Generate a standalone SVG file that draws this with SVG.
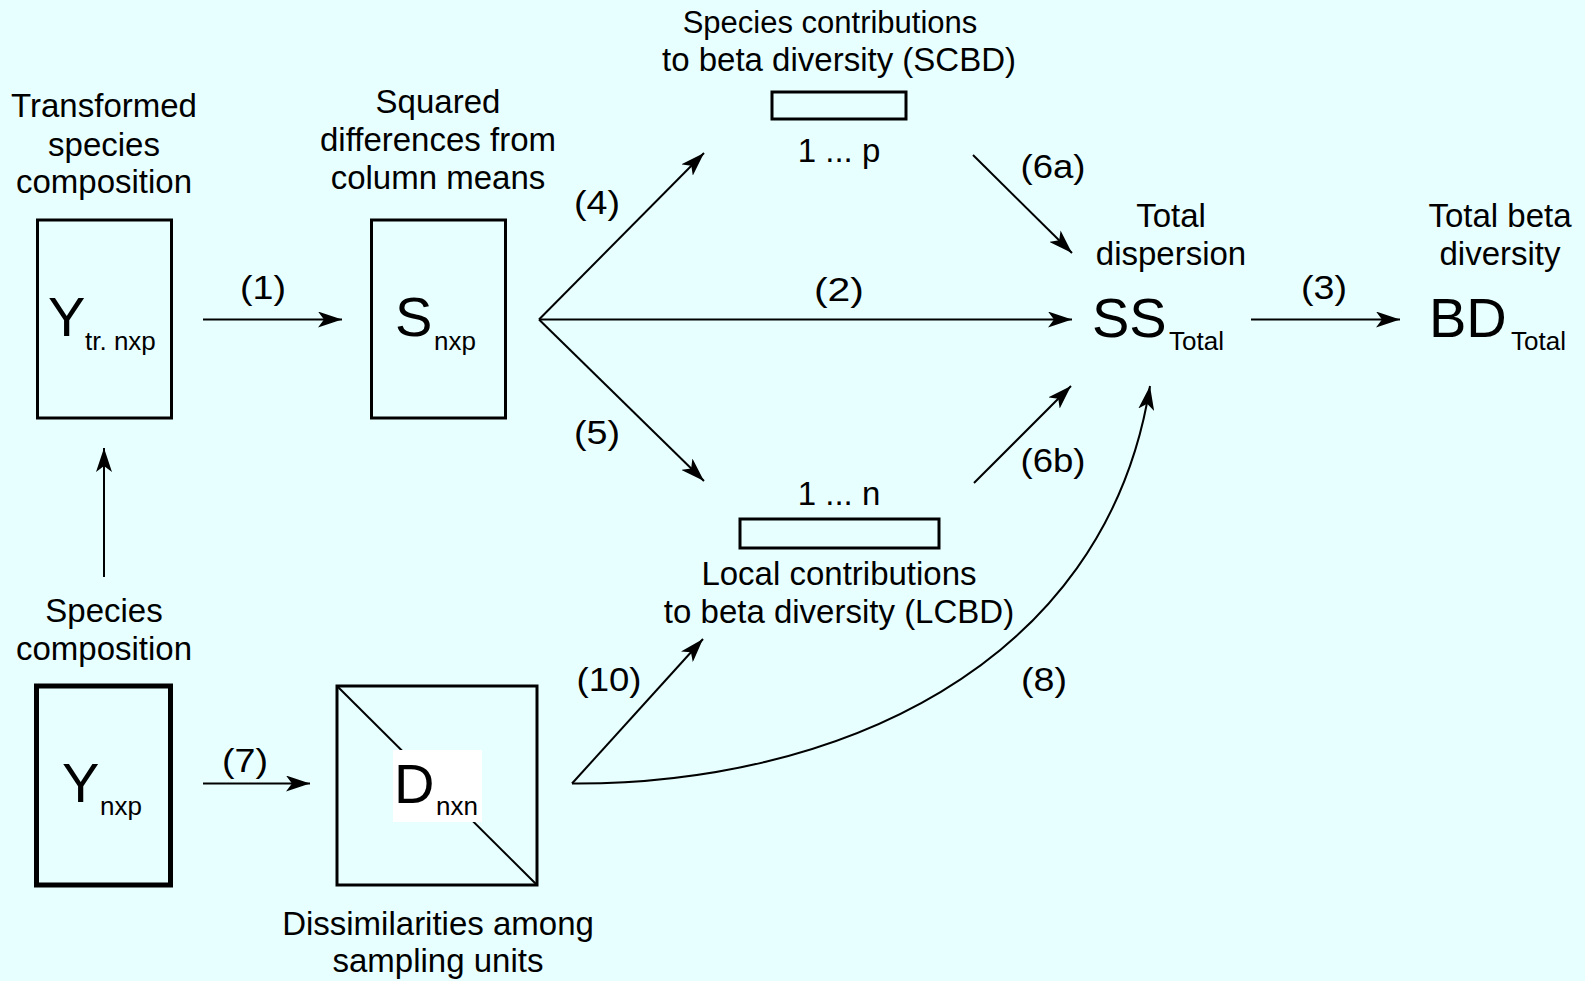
<svg xmlns="http://www.w3.org/2000/svg" width="1585" height="981" viewBox="0 0 1585 981">
<defs>
<style>
text{font-family:"Liberation Sans",Arial,sans-serif;fill:#000}
.t{font-size:33px;text-anchor:middle}
.lb{font-size:33px;text-anchor:middle}
.big{font-size:56px}
.sub{font-size:26px}
.box{fill:none;stroke:#000;stroke-width:3}
.thick{fill:none;stroke:#000;stroke-width:5}
.c{fill:none;stroke:#000;stroke-width:2;marker-end:url(#ah)}
</style>
<marker id="ah" markerUnits="userSpaceOnUse" markerWidth="24" markerHeight="16" refX="24" refY="8" orient="auto">
<path d="M0,0 L24,8 L0,16 L6,8 Z" fill="#000"/>
</marker>
</defs>
<rect x="0" y="0" width="1585" height="981" fill="#E8FFFF"/>

<g id="ytr">
<text class="t" x="104" y="117">Transformed</text>
<text class="t" x="104" y="156">species</text>
<text class="t" x="104" y="193">composition</text>
<rect class="box" x="37.5" y="220" width="134" height="198"/>
<text class="big" x="48" y="336">Y</text>
<text class="sub" x="85" y="350">tr. nxp</text>
</g>

<g id="s">
<text class="t" x="438" y="113">Squared</text>
<text class="t" x="438" y="151">differences from</text>
<text class="t" x="438" y="189">column means</text>
<rect class="box" x="371.5" y="220" width="134" height="198"/>
<text class="big" x="395" y="336">S</text>
<text class="sub" x="434" y="350">nxp</text>
</g>

<g id="scbd">
<text class="t" x="830" y="33" style="font-size:31px">Species contributions</text>
<text class="t" x="839" y="71">to beta diversity (SCBD)</text>
<rect class="box" x="772" y="92" width="134" height="27"/>
<text class="t" x="839" y="162">1 ... p</text>
</g>

<g id="lcbd">
<text class="t" x="839" y="505">1 ... n</text>
<rect class="box" x="740" y="519" width="199" height="29"/>
<text class="t" x="839" y="585">Local contributions</text>
<text class="t" x="839" y="623">to beta diversity (LCBD)</text>
</g>

<g id="ss">
<text class="t" x="1171" y="227">Total</text>
<text class="t" x="1171" y="265">dispersion</text>
<text class="big" x="1092" y="337">SS</text>
<text class="sub" x="1169" y="350">Total</text>
</g>

<g id="bd">
<text class="t" x="1500" y="227">Total beta</text>
<text class="t" x="1500" y="265">diversity</text>
<text class="big" x="1429" y="337">BD</text>
<text class="sub" x="1511" y="350">Total</text>
</g>

<g id="y">
<text class="t" x="104" y="622">Species</text>
<text class="t" x="104" y="660">composition</text>
<rect class="thick" x="36.5" y="686" width="134" height="199"/>
<text class="big" x="62" y="802">Y</text>
<text class="sub" x="100" y="815">nxp</text>
</g>

<g id="d">
<rect class="box" x="337" y="686" width="200" height="199"/>
<line x1="337" y1="686" x2="537" y2="885" stroke="#000" stroke-width="2"/>
<rect x="393" y="750" width="89" height="72" fill="#FFFFFF"/>
<text class="big" x="394" y="803">D</text>
<text class="sub" x="436" y="815">nxn</text>
<text class="t" x="438" y="935">Dissimilarities among</text>
<text class="t" x="438" y="972">sampling units</text>
</g>

<g id="connectors">
<line class="c" x1="203" y1="319.5" x2="342" y2="319.5"/>
<line class="c" x1="539" y1="319.5" x2="1072" y2="319.5"/>
<line class="c" x1="539" y1="319.5" x2="704" y2="153"/>
<line class="c" x1="539" y1="319.5" x2="704" y2="481"/>
<line class="c" x1="973" y1="155" x2="1072" y2="253"/>
<line class="c" x1="974" y1="483" x2="1071" y2="386"/>
<line class="c" x1="1251" y1="319.5" x2="1400" y2="319.5"/>
<line class="c" x1="104" y1="577" x2="104" y2="448"/>
<line class="c" x1="203" y1="783.5" x2="310" y2="783.5"/>
<line class="c" x1="572" y1="783.5" x2="703" y2="639"/>
<path class="c" d="M572,783.5 C830,785 1105,670 1150,386"/>
<text class="lb" x="263" y="299" textLength="46" lengthAdjust="spacingAndGlyphs">(1)</text>
<text class="lb" x="839" y="301" textLength="50" lengthAdjust="spacingAndGlyphs">(2)</text>
<text class="lb" x="1324" y="299" textLength="46" lengthAdjust="spacingAndGlyphs">(3)</text>
<text class="lb" x="597" y="214" textLength="46" lengthAdjust="spacingAndGlyphs">(4)</text>
<text class="lb" x="597" y="444" textLength="46" lengthAdjust="spacingAndGlyphs">(5)</text>
<text class="lb" x="1053" y="178" textLength="65" lengthAdjust="spacingAndGlyphs">(6a)</text>
<text class="lb" x="1053" y="472" textLength="65" lengthAdjust="spacingAndGlyphs">(6b)</text>
<text class="lb" x="245" y="772" textLength="46" lengthAdjust="spacingAndGlyphs">(7)</text>
<text class="lb" x="1044" y="691" textLength="46" lengthAdjust="spacingAndGlyphs">(8)</text>
<text class="lb" x="609" y="691" textLength="65" lengthAdjust="spacingAndGlyphs">(10)</text>
</g>
</svg>
